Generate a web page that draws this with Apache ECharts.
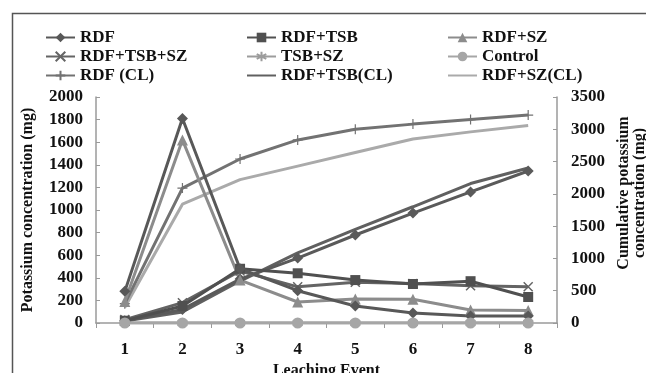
<!DOCTYPE html>
<html>
<head>
<meta charset="utf-8">
<script src="https://cdn.jsdelivr.net/npm/echarts@6/dist/echarts.min.js"></script>
<style>
  html, body { margin: 0; padding: 0; background: #fff; }
  #chart { width: 646px; height: 373px; }
</style>
</head>
<body>
<div id="chart"></div>
<script>
// Leaching events
const events = ['1', '2', '3', '4', '5', '6', '7', '8'];

// Potassium per event (mg), left axis
const rdf = [280, 1810, 480, 286, 150, 88, 62, 62];
const rdfTsb = [20, 150, 480, 440, 380, 345, 370, 230];
const rdfSz = [190, 1620, 380, 186, 212, 210, 115, 110];
const rdfTsbSz = [30, 180, 460, 320, 360, 350, 330, 320];
const tsbSz = [0, 0, 0, 0, 0, 0, 0, 0];
const control = [0, 0, 0, 0, 0, 0, 0, 0];

// Cumulative potassium (mg), right axis
const rdfCL = [300, 2090, 2540, 2835, 3000, 3080, 3150, 3220];
const rdfTsbCL = [30, 170, 650, 1085, 1450, 1800, 2160, 2400];
const rdfSzCL = [245, 1840, 2220, 2430, 2640, 2850, 2960, 3060];
const rdfTsbSzCL = [35, 210, 680, 1006, 1363, 1703, 2030, 2354];

const leftTicks = { min: 0, max: 2000, interval: 200 };
const rightTicks = { min: 0, max: 3500, interval: 500 };

const FONT = '"Liberation Serif", "Times New Roman", serif';
const txt = { fontFamily: FONT, fontWeight: 'bold', fontSize: 16, color: '#111' };
const tickTxt = Object.assign({}, txt, { fontSize: 17 });

const crossPath = 'path://M0,0 L10,10 M10,0 L0,10';
const plusPath = 'path://M5,0 L5,10 M0,5 L10,5';
const starPath = 'path://M5,0 L5,10 M0,2.5 L10,7.5 M10,2.5 L0,7.5';

function line(name, data, color, symbol, size, axis, extra) {
  return Object.assign({
    name: name,
    type: 'line',
    data: data,
    yAxisIndex: axis,
    symbol: symbol,
    symbolSize: size,
    showSymbol: size > 0,
    lineStyle: { color: color, width: 3 },
    itemStyle: { color: color },
    animation: false
  }, extra || {});
}
function stroked(color, w) {
  return { itemStyle: { color: color, borderColor: color, borderWidth: w } };
}

const series = [
  line('TSB+SZ', tsbSz, '#9c9c9c', starPath, 10, 0, stroked('#9c9c9c', 1.5)),
  line('RDF+SZ(CL)', rdfSzCL, '#aaaaaa', 'circle', 0, 1),
  line('RDF (CL)', rdfCL, '#727272', plusPath, 10, 1, stroked('#727272', 1.2)),
  line('RDF+TSB(CL)', rdfTsbCL, '#606060', 'circle', 0, 1),
  line('RDF+TSB+SZ(CL)', rdfTsbSzCL, '#5a5a5a', 'diamond', 11, 1),
  line('RDF+SZ', rdfSz, '#8c8c8c', 'triangle', 11, 0),
  line('RDF+TSB+SZ', rdfTsbSz, '#646464', crossPath, 9, 0, stroked('#646464', 1.5)),
  line('RDF+TSB', rdfTsb, '#505050', 'rect', 10, 0),
  line('RDF', rdf, '#585858', 'diamond', 11, 0),
  line('Control', control, '#a6a6a6', 'circle', 11, 0)
];

// legend entries for plain lines hide the symbol
const lineOnly = name => ({ name: name, itemStyle: { opacity: 0 } });

function legendCol(left, names) {
  return {
    orient: 'vertical',
    left: left,
    top: 29,
    padding: 0,
    itemWidth: 29,
    itemHeight: 12,
    itemGap: 2,
    data: names,
    textStyle: Object.assign({}, txt, { fontSize: 17 }),
    selectedMode: false
  };
}

const plain = v => String(v);

const chart = echarts.init(document.getElementById('chart'), null, { renderer: 'canvas' });
chart.setOption({
  backgroundColor: '#fff',
  animation: false,
  graphic: [{
    type: 'rect',
    left: 10, top: 11,
    shape: { width: 700, height: 420 },
    style: { fill: 'none', stroke: '#555', lineWidth: 1.5 },
    silent: true
  }],
  legend: [
    legendCol(45, ['RDF', 'RDF+TSB+SZ', 'RDF (CL)']),
    legendCol(246, ['RDF+TSB', 'TSB+SZ', lineOnly('RDF+TSB(CL)')]),
    legendCol(447, ['RDF+SZ', 'Control', lineOnly('RDF+SZ(CL)')])
  ],
  grid: { left: 96, right: 89, top: 97, bottom: 50, containLabel: false, outerBoundsMode: 'none' },
  xAxis: {
    type: 'category',
    data: events,
    boundaryGap: true,
    name: 'Leaching Event',
    nameLocation: 'middle',
    nameGap: 38,
    nameTextStyle: txt,
    axisLine: { lineStyle: { color: '#9a9a9a', width: 1.5 } },
    axisTick: { show: true, inside: false, length: 5, lineStyle: { color: '#9a9a9a' } },
    axisLabel: Object.assign({ margin: 18 }, tickTxt),
    splitLine: { show: false }
  },
  yAxis: [{
    type: 'value',
    min: leftTicks.min, max: leftTicks.max, interval: leftTicks.interval,
    name: 'Potassium concentration (mg)',
    nameLocation: 'middle',
    nameGap: 60,
    nameRotate: 90,
    nameTextStyle: txt,
    axisLine: { show: true, lineStyle: { color: '#9a9a9a', width: 1.5 } },
    axisTick: { show: true, inside: true, length: 4, lineStyle: { color: '#9a9a9a' } },
    axisLabel: Object.assign({ margin: 13, formatter: plain }, tickTxt),
    splitLine: { show: false }
  }, {
    type: 'value',
    position: 'right',
    min: rightTicks.min, max: rightTicks.max, interval: rightTicks.interval,
    name: 'Cumulative potassium\nconcentration (mg)',
    nameLocation: 'middle',
    nameGap: 54,
    nameRotate: 90,
    nameTextStyle: Object.assign({ lineHeight: 16, padding: [0, 0, 0, 34] }, txt),
    axisLine: { show: true, lineStyle: { color: '#9a9a9a', width: 1.5 } },
    axisTick: { show: true, inside: true, length: 4, lineStyle: { color: '#9a9a9a' } },
    axisLabel: Object.assign({ margin: 14, formatter: plain }, tickTxt),
    splitLine: { show: false }
  }],
  series: series
});
</script>
</body>
</html>
